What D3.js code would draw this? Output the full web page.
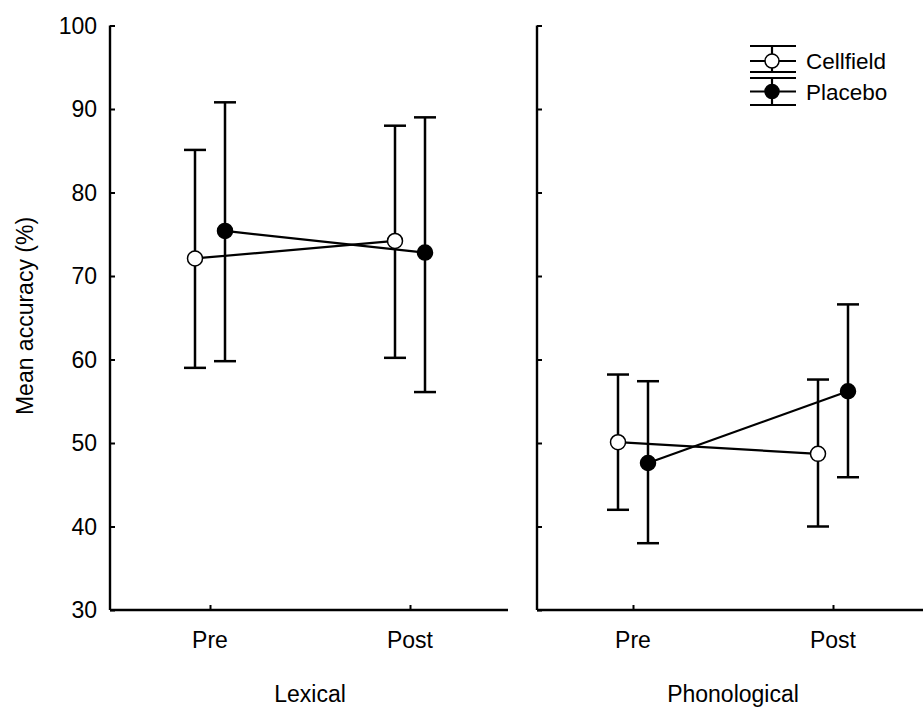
<!DOCTYPE html>
<html><head><meta charset="utf-8">
<script src="https://cdn.jsdelivr.net/npm/d3@7"></script>
<style>body{margin:0;background:#fff}svg{display:block;font-family:Arial,"Liberation Sans",Helvetica,sans-serif}</style>
</head><body><svg id="c" width="923" height="710"></svg>
<script>
const times = ["Pre","Post"];
const groups = ["Cellfield","Placebo"];
const panels = ["Lexical","Phonological"];
const yTicks = [30,40,50,60,70,80,90,100];
// values indexed [panel][time]
const cellfieldMean = [[72.1,74.2],[50.1,48.7]];
const cellfieldLow  = [[59.0,60.2],[42.0,40.0]];
const cellfieldHigh = [[85.1,88.0],[58.2,57.6]];
const placeboMean = [[75.4,72.8],[47.6,56.2]];
const placeboLow  = [[59.8,56.1],[38.0,45.9]];
const placeboHigh = [[90.8,89.0],[57.4,66.6]];

const svg = d3.select("#c");
const y = d3.scaleLinear().domain([30,100]).range([610,25.5]);
const panelX0 = [110,537];
const panelX1 = [508,923];
const pointRange = [[110,510],[533,933]];
const offset = {Cellfield:-15, Placebo:15};
const data = {
  Cellfield:{mean:cellfieldMean,low:cellfieldLow,high:cellfieldHigh,fill:"#fff"},
  Placebo:{mean:placeboMean,low:placeboLow,high:placeboHigh,fill:"#000"}
};
const FS = 23;

panels.forEach((p,pi)=>{
  const x = d3.scalePoint().domain(times).range(pointRange[pi]).padding(0.5);
  const g = svg.append("g");
  const ya = g.append("g").attr("transform",`translate(${panelX0[pi]},0)`)
    .call(d3.axisRight(y).tickValues(yTicks).tickSize(5).tickFormat(""));
  ya.select(".domain").attr("d",`M0,${y(100)}V${y(30)}`).attr("stroke-width",2.4);
  ya.selectAll(".tick line").attr("stroke-width",2);
  if(pi===0){
    yTicks.forEach(t=>{
      g.append("text").attr("x",97).attr("y",y(t)).attr("dy","0.36em")
       .attr("text-anchor","end").attr("font-size",FS).text(t);
    });
  }
  const xa = g.append("g").attr("transform",`translate(0,${y(30)})`)
    .call(d3.axisTop(x).tickSize(5).tickFormat(""));
  xa.select(".domain").attr("d",`M${panelX0[pi]},0H${panelX1[pi]}`).attr("stroke-width",2.4);
  xa.selectAll(".tick line").attr("stroke-width",2);
  times.forEach(t=>{
    g.append("text").attr("x",x(t)).attr("y",648).attr("text-anchor","middle")
     .attr("font-size",FS).text(t);
  });
  g.append("text").attr("x",(x("Pre")+x("Post"))/2).attr("y",702).attr("text-anchor","middle")
   .attr("font-size",FS).text(p);
  groups.forEach(gr=>{
    const d = data[gr];
    const pts = times.map((t,ti)=>({x:x(t)+offset[gr],m:d.mean[pi][ti],lo:d.low[pi][ti],hi:d.high[pi][ti]}));
    pts.forEach(pt=>{
      g.append("line").attr("x1",pt.x).attr("x2",pt.x).attr("y1",y(pt.lo)).attr("y2",y(pt.hi))
        .attr("stroke","#000").attr("stroke-width",2.5);
      [pt.lo,pt.hi].forEach(v=>g.append("line").attr("x1",pt.x-11).attr("x2",pt.x+11)
        .attr("y1",y(v)).attr("y2",y(v)).attr("stroke","#000").attr("stroke-width",2.5));
    });
    g.append("path").datum(pts).attr("fill","none").attr("stroke","#000").attr("stroke-width",2.2)
      .attr("d",d3.line().x(q=>q.x).y(q=>y(q.m)));
    pts.forEach(pt=>{
      g.append("circle").attr("cx",pt.x).attr("cy",y(pt.m)).attr("r",7.5)
       .attr("fill",d.fill).attr("stroke","#000").attr("stroke-width",1.5);
    });
  });
});

svg.append("text").attr("transform","translate(33,316) rotate(-90)").attr("text-anchor","middle")
  .attr("font-size",FS).text("Mean accuracy (%)");

// legend
const legendY = [[46,61,72],[78,91.5,105]];
groups.forEach((gr,i)=>{
  const [t,c,b] = legendY[i];
  const lg = svg.append("g");
  [t,c,b].forEach(yy=>lg.append("line").attr("x1",750).attr("x2",796).attr("y1",yy).attr("y2",yy)
     .attr("stroke","#000").attr("stroke-width",2.2));
  lg.append("line").attr("x1",772).attr("x2",772).attr("y1",t).attr("y2",b).attr("stroke","#000").attr("stroke-width",2.2);
  lg.append("circle").attr("cx",772).attr("cy",c).attr("r",7).attr("fill",data[gr].fill).attr("stroke","#000").attr("stroke-width",1.5);
  lg.append("text").attr("x",806).attr("y",c).attr("dy","0.36em").attr("font-size",22.5).text(gr);
});
</script></body></html>
